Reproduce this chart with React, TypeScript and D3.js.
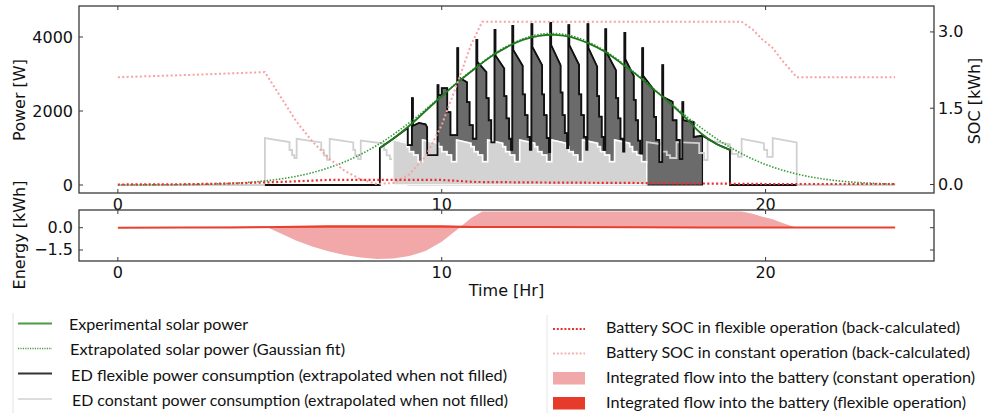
import React from "react";
import * as d3 from "d3";

// ---------------- DATA ----------------
const xTicks = [0, 10, 20];
const powerTicks = [0, 2000, 4000];
const socTicks = [0, 1.5, 3.0];
const energyTicks = [0, -1.5];

// Extrapolated solar power (Gaussian fit), hourly [hr, W]
const solarFit: [number, number][] = [
  [0, 1], [1, 4], [2, 10], [3, 28], [4, 71], [5, 160], [6, 333], [7, 625], [8, 1073],
  [9, 1684], [10, 2411], [11, 3148], [12, 3746], [13, 4070], [14, 4033], [15, 3645],
  [16, 3006], [17, 2261], [18, 1551], [19, 971], [20, 554], [21, 290], [22, 137], [23, 60], [24, 23],
];

// Experimental solar power [hr, W]
const solarExp: [number, number][] = [
  [8.09, 1000], [8.5, 1250], [9, 1600], [9.5, 2000], [10, 2400], [10.5, 2780], [11, 3130],
  [11.5, 3460], [12, 3720], [12.5, 3920], [13, 4030], [13.5, 4060], [14, 4000], [14.5, 3840],
  [15, 3620], [15.5, 3320], [16, 2990], [16.5, 2620], [17, 2250], [17.5, 1840], [18, 1400],
  [18.5, 1100], [18.9, 950],
];

// ED flexible power consumption [hr, W]
const flexPower: [number, number][] = [
  [4.54, 0], [8.09, 0], [8.09, 1000], [8.5, 1250], [8.95, 1540], [8.95, 1080], [9.08, 1080],
  [9.08, 2350], [9.11, 2350], [9.11, 1600], [9.3, 1680], [9.5, 1640], [9.55, 1560], [9.55, 810], [9.87, 810],
  [9.87, 2700], [9.9, 2700], [9.9, 2430], [10.0, 2430], [10.0, 2620], [10.17, 2620], [10.17, 1970], [10.27, 1970], [10.27, 1350], [10.48, 1350],
  [10.48, 3700], [10.51, 3700], [10.51, 2920], [10.78, 2780], [10.78, 2240], [10.86, 2240], [10.86, 1620], [10.96, 1620], [10.96, 1250], [11.07, 1250],
  [11.07, 3920], [11.1, 3920], [11.1, 3330], [11.38, 3050], [11.38, 2350], [11.45, 2350], [11.45, 1750], [11.53, 1750], [11.53, 1150], [11.63, 1150],
  [11.63, 4190], [11.66, 4190], [11.66, 3500], [11.93, 3150], [11.93, 2400], [12.0, 2400], [12.0, 1800], [12.08, 1800], [12.08, 1250], [12.14, 1250], [12.14, 950], [12.18, 950],
  [12.18, 4300], [12.21, 4300], [12.21, 3650], [12.5, 3220], [12.5, 2450], [12.57, 2450], [12.57, 1890], [12.65, 1890], [12.65, 1300], [12.72, 1300], [12.72, 950], [12.77, 950],
  [12.77, 4350], [12.8, 4350], [12.8, 3730], [13.1, 3240], [13.1, 2450], [13.16, 2450], [13.16, 1890], [13.24, 1890], [13.24, 1270], [13.31, 1270], [13.31, 890], [13.35, 890],
  [13.35, 4380], [13.38, 4380], [13.38, 3780], [13.67, 3240], [13.67, 2500], [13.73, 2500], [13.73, 1890], [13.8, 1890], [13.8, 1400], [13.87, 1400], [13.87, 1000], [13.91, 1000],
  [13.91, 4320], [13.94, 4320], [13.94, 3780], [14.24, 3250], [14.24, 2450], [14.31, 2450], [14.31, 1890], [14.39, 1890], [14.39, 1300], [14.46, 1300], [14.46, 950], [14.5, 950],
  [14.5, 4350], [14.53, 4350], [14.53, 3700], [14.8, 3200], [14.8, 2400], [14.86, 2400], [14.86, 1850], [14.94, 1850], [14.94, 1300], [15.0, 1300], [15.0, 950], [15.05, 950],
  [15.05, 4210], [15.08, 4210], [15.08, 3600], [15.38, 3100], [15.38, 2350], [15.45, 2350], [15.45, 1800], [15.52, 1800], [15.52, 1250], [15.6, 1250], [15.6, 900], [15.64, 900],
  [15.64, 4110], [15.67, 4110], [15.67, 3400], [15.93, 2950], [15.93, 2300], [15.99, 2300], [15.99, 1750], [16.06, 1750], [16.06, 1200], [16.13, 1200], [16.13, 850], [16.19, 850],
  [16.19, 3700], [16.22, 3700], [16.22, 2950], [16.55, 2570], [16.55, 1840], [16.62, 1840], [16.62, 1216], [16.72, 1216], [16.72, 620], [16.81, 620],
  [16.81, 3240], [16.84, 3240], [16.84, 2380], [17.13, 2250], [17.13, 1750], [17.25, 1750], [17.25, 1216], [17.35, 1216], [17.35, 700], [17.43, 700],
  [17.43, 2240], [17.46, 2240], [17.46, 1750], [17.78, 1700], [17.78, 1300], [18.05, 1330], [18.5, 1100], [18.9, 950], [18.9, 0], [20.96, 0],
];
const flexFilled: [number, number] = [8.95, 18.05];

// ED constant power consumption [hr, W]
const constPower: [number, number][] = [
  [0, 0], [4.54, 0],
  [4.54, 1270], [5.3, 1160], [5.3, 946], [5.38, 946], [5.38, 810], [5.45, 810], [5.45, 730], [5.52, 730],
  [5.52, 1250], [6.28, 1150], [6.28, 950], [6.36, 950], [6.36, 800], [6.46, 800], [6.46, 680], [6.54, 680],
  [6.54, 1250], [7.27, 1150], [7.27, 950], [7.33, 950], [7.33, 800], [7.42, 800], [7.42, 700], [7.5, 700],
  [7.5, 1200], [8.22, 1120], [8.22, 950], [8.3, 950], [8.3, 800], [8.4, 800], [8.4, 700], [8.49, 700],
  [8.49, 1230], [8.93, 1130], [8.93, 1030], [9.0, 1030], [9.0, 900], [9.13, 900], [9.13, 810], [9.27, 810], [9.27, 630], [9.41, 630],
  [9.41, 1216], [9.9, 1127], [9.9, 1036], [10.0, 1036], [10.0, 900], [10.16, 900], [10.16, 810], [10.3, 810], [10.3, 630], [10.46, 630],
  [10.46, 1216], [10.9, 1127], [10.9, 1036], [11.0, 1036], [11.0, 900], [11.12, 900], [11.12, 810], [11.26, 810], [11.26, 630], [11.42, 630],
  [11.42, 1216], [11.88, 1127], [11.88, 1036], [11.97, 1036], [11.97, 900], [12.1, 900], [12.1, 810], [12.25, 810], [12.25, 630], [12.41, 630],
  [12.41, 1216], [12.87, 1127], [12.87, 1036], [12.96, 1036], [12.96, 900], [13.09, 900], [13.09, 810], [13.24, 810], [13.24, 630], [13.4, 630],
  [13.4, 1216], [13.84, 1127], [13.84, 1036], [13.93, 1036], [13.93, 900], [14.06, 900], [14.06, 810], [14.2, 810], [14.2, 630], [14.35, 630],
  [14.35, 1216], [14.81, 1127], [14.81, 1036], [14.9, 1036], [14.9, 900], [15.03, 900], [15.03, 810], [15.18, 810], [15.18, 630], [15.34, 630],
  [15.34, 1216], [15.8, 1127], [15.8, 1036], [15.89, 1036], [15.89, 900], [16.02, 900], [16.02, 810], [16.17, 810], [16.17, 630], [16.33, 630],
  [16.33, 1160], [16.8, 1100], [16.8, 900], [16.95, 900], [16.95, 810], [17.05, 810], [17.05, 730], [17.25, 730],
  [17.25, 1160], [17.95, 1135], [17.95, 865], [18.1, 865], [18.1, 676], [18.21, 676],
  [18.21, 1216], [18.9, 1100], [18.9, 1000], [18.95, 1000], [18.95, 840], [19.15, 840], [19.15, 760], [19.26, 760],
  [19.26, 1250], [19.95, 1130], [19.95, 950], [20.05, 950], [20.05, 760], [20.22, 760],
  [20.22, 1270], [20.96, 1150], [20.96, 0], [24, 0],
];
const constFilled: [number, number] = [8.49, 16.33];

// Battery SOC [hr, kWh]
const socFlex: [number, number][] = [
  [0, 0], [2, 0.005], [3.5, 0.02], [5, 0.05], [6.5, 0.09], [8, 0.09], [10, 0.09], [11, 0.05],
  [13, 0.04], [16, 0.03], [18, 0.02], [20, 0.01], [24, 0.01],
];
const socConst: [number, number][] = [
  [0, 2.11], [2, 2.15], [4.54, 2.21], [5.0, 1.75], [5.5, 1.25], [6.0, 0.85], [6.5, 0.52], [7.0, 0.27],
  [7.5, 0.1], [8.0, 0.01], [8.5, 0.03], [9.0, 0.2], [9.5, 0.55], [10.0, 1.17], [10.5, 2.02], [10.9, 2.74],
  [11.25, 3.2], [19.26, 3.2], [19.6, 3.05], [19.9, 2.85], [20.2, 2.7], [20.5, 2.45], [20.96, 2.11], [24, 2.11],
];

const legendLeft = [
  "Experimental solar power",
  "Extrapolated solar power (Gaussian fit)",
  "ED flexible power consumption (extrapolated when not filled)",
  "ED constant power consumption (extrapolated when not filled)",
];
const legendRight = [
  "Battery SOC in flexible operation (back-calculated)",
  "Battery SOC in constant operation (back-calculated)",
  "Integrated flow into the battery (constant operation)",
  "Integrated flow into the battery (flexible operation)",
];

// ---------------- HELPERS ----------------
function slice(pts: [number, number][], range: [number, number]) {
  const [s, e] = range;
  return pts.filter((p, i) => {
    if (p[0] < s || p[0] > e) return false;
    if (p[0] === e && i > 0 && pts[i - 1][0] === e) return false;
    return true;
  });
}

const FONT = "DejaVu Sans, sans-serif";
const LFONT = "Lato, 'Open Sans', sans-serif";

export default function App() {
  const L = 79, R = 934, T1 = 6, B1 = 193, T2 = 210, B2 = 261;
  const x = d3.scaleLinear().domain([-1.2, 25.2]).range([L, R]);
  const yP = d3.scaleLinear().domain([-216, 4838]).range([B1, T1]);
  const yS = d3.scaleLinear().domain([-0.167, 3.51]).range([B1, T1]);
  const yE = d3.scaleLinear().domain([-2.24, 1.19]).range([B2, T2]);

  const lineP = d3.line<[number, number]>().x((d) => x(d[0])).y((d) => yP(d[1]));
  const curveP = d3.line<[number, number]>().x((d) => x(d[0])).y((d) => yP(d[1])).curve(d3.curveCatmullRom);
  const lineS = d3.line<[number, number]>().x((d) => x(d[0])).y((d) => yS(d[1]));
  const areaP = d3.area<[number, number]>().x((d) => x(d[0])).y0(yP(0)).y1((d) => yP(d[1]));
  const areaE = d3.area<[number, number]>().x((d) => x(d[0])).y0(yE(0)).y1((d) => yE(d[1]));
  const lineE = d3.line<[number, number]>().x((d) => x(d[0])).y((d) => yE(d[1]));

  const flexFill = slice(flexPower, flexFilled);
  const constFill = slice(constPower, constFilled);
  const eConst: [number, number][] = socConst.map((d) => [d[0], d[1] - socConst[0][1]]);
  const eFlex: [number, number][] = socFlex.map((d) => [d[0], d[1] - socFlex[0][1]]);

  const tickLen = 4;
  const axisColor = "#3a3a3a";
  const txt = { fontFamily: FONT, fontSize: 16, fill: "#111" } as const;

  const leftRowsBase = [330, 355, 381, 406];
  const leftTextX = [69, 70, 71, 72];
  const leftTextW = [179, 275, 436, 436];
  const leftSymY = [323.5, 348.5, 373.5, 399];
  const rightRowsBase = [333, 358, 383, 408];
  const rightTextW = [354, 364, 369, 360];
  const rightSymY = [329, 353.5];

  return (
    <svg
      width={984}
      height={413}
      style={{ position: "absolute", left: 0, top: 0, display: "block", background: "#fff" }}
    >
      <defs>
        <clipPath id="c1">
          <rect x={L} y={T1} width={R - L} height={B1 - T1} />
        </clipPath>
        <clipPath id="c2">
          <rect x={L} y={T2} width={R - L} height={B2 - T2} />
        </clipPath>
      </defs>

      {/* ---------- Top panel ---------- */}
      <g clipPath="url(#c1)">
        <path d={areaP(flexFill) || ""} fill="#6b6b6b" stroke="#111" strokeWidth={1.2} />
        <path d={lineP(constPower) || ""} fill="none" stroke="#d0d0d0" strokeWidth={1.8} />
        <path d={areaP(constFill) || ""} fill="#d3d3d3" stroke="#fff" strokeWidth={1.5} />
        <path d={lineP(flexPower) || ""} fill="none" stroke="#111" strokeWidth={1.8} strokeLinejoin="miter" />
        <path d={curveP(solarFit) || ""} fill="none" stroke="#3a9a3a" strokeWidth={1.6} strokeDasharray="1.5 1.6" />
        <path d={curveP(solarExp) || ""} fill="none" stroke="#1f7a1f" strokeWidth={1.8} />
        <path d={lineS(socConst) || ""} fill="none" stroke="#f7a3a3" strokeWidth={2} strokeDasharray="2 2.4" />
        <path d={lineS(socFlex) || ""} fill="none" stroke="#ef2b2b" strokeWidth={2.2} strokeDasharray="2 2.4" />
      </g>
      <rect x={L} y={T1} width={R - L} height={B1 - T1} fill="none" stroke={axisColor} strokeWidth={1.3} />
      {xTicks.map((t) => (
        <g key={"xt" + t}>
          <line x1={x(t)} x2={x(t)} y1={T1} y2={T1 + tickLen} stroke={axisColor} />
          <line x1={x(t)} x2={x(t)} y1={B1} y2={B1 - tickLen} stroke={axisColor} />
          <text x={x(t)} y={210} textAnchor="middle" {...txt}>{t}</text>
        </g>
      ))}
      {powerTicks.map((t) => (
        <g key={"pt" + t}>
          <line x1={L} x2={L + tickLen} y1={yP(t)} y2={yP(t)} stroke={axisColor} />
          <text x={73} y={yP(t)} textAnchor="end" dominantBaseline="central" {...txt}>{t}</text>
        </g>
      ))}
      {socTicks.map((t) => (
        <g key={"st" + t}>
          <line x1={R} x2={R - tickLen} y1={yS(t)} y2={yS(t)} stroke={axisColor} />
          <text x={938} y={yS(t)} textAnchor="start" dominantBaseline="central" {...txt}>{t.toFixed(1)}</text>
        </g>
      ))}
      <text transform="translate(25,100) rotate(-90)" textAnchor="middle" {...txt}>Power [W]</text>
      <text transform="translate(980,101) rotate(-90)" textAnchor="middle" {...txt}>SOC [kWh]</text>

      {/* ---------- Bottom panel ---------- */}
      <g clipPath="url(#c2)">
        <path d={areaE(eConst) || ""} fill="#f2a8a8" stroke="none" />
        <path d={areaE(eFlex) || ""} fill="#e8392b" stroke="none" />
        <path d={lineE(eFlex) || ""} fill="none" stroke="#e8402f" strokeWidth={2} />
      </g>
      <rect x={L} y={T2} width={R - L} height={B2 - T2} fill="none" stroke={axisColor} strokeWidth={1.3} />
      {xTicks.map((t) => (
        <g key={"xb" + t}>
          <line x1={x(t)} x2={x(t)} y1={T2} y2={T2 + tickLen} stroke={axisColor} />
          <line x1={x(t)} x2={x(t)} y1={B2} y2={B2 - tickLen} stroke={axisColor} />
          <text x={x(t)} y={278} textAnchor="middle" {...txt}>{t}</text>
        </g>
      ))}
      {energyTicks.map((t) => (
        <g key={"et" + t}>
          <line x1={L} x2={L + tickLen} y1={yE(t)} y2={yE(t)} stroke={axisColor} />
          <line x1={R} x2={R - tickLen} y1={yE(t)} y2={yE(t)} stroke={axisColor} />
          <text x={73} y={yE(t)} textAnchor="end" dominantBaseline="central" {...txt}>
            {t < 0 ? "\u2212" + Math.abs(t).toFixed(1) : t.toFixed(1)}
          </text>
        </g>
      ))}
      <text transform="translate(25,235) rotate(-90)" textAnchor="middle" {...txt}>Energy [kWh]</text>
      <text x={(L + R) / 2} y={296} textAnchor="middle" {...txt}>Time [Hr]</text>

      {/* ---------- Legend ---------- */}
      <line x1={13} x2={13} y1={313} y2={413} stroke="#e2e2e2" strokeWidth={1} />
      <line x1={547} x2={547} y1={315} y2={413} stroke="#e6e6e6" strokeWidth={1} />
      <line x1={18} x2={52} y1={leftSymY[0]} y2={leftSymY[0]} stroke="#4c9a42" strokeWidth={2} />
      <line x1={18} x2={52} y1={leftSymY[1]} y2={leftSymY[1]} stroke="#4c9a42" strokeWidth={1.5} strokeDasharray="1.2 1.2" />
      <line x1={18} x2={52} y1={leftSymY[2]} y2={leftSymY[2]} stroke="#333" strokeWidth={2} />
      <line x1={18} x2={52} y1={leftSymY[3]} y2={leftSymY[3]} stroke="#dcdcdc" strokeWidth={2} />
      {legendLeft.map((s, i) => (
        <text key={"ll" + i} x={leftTextX[i]} y={leftRowsBase[i]} fontFamily={LFONT} fontSize={15.5} fill="#111"
          textLength={leftTextW[i]} lengthAdjust="spacingAndGlyphs">{s}</text>
      ))}
      <line x1={553} x2={585} y1={rightSymY[0]} y2={rightSymY[0]} stroke="#e83030" strokeWidth={2} strokeDasharray="2 1.8" />
      <line x1={553} x2={585} y1={rightSymY[1]} y2={rightSymY[1]} stroke="#f4b2b2" strokeWidth={2} strokeDasharray="2 1.8" />
      <rect x={553} y={372} width={32} height={12.5} fill="#f0a8a8" />
      <rect x={553} y={397} width={32} height={12.5} fill="#e63a2a" />
      {legendRight.map((s, i) => (
        <text key={"lr" + i} x={606} y={rightRowsBase[i]} fontFamily={LFONT} fontSize={15.5} fill="#111"
          textLength={rightTextW[i]} lengthAdjust="spacingAndGlyphs">{s}</text>
      ))}
    </svg>
  );
}
